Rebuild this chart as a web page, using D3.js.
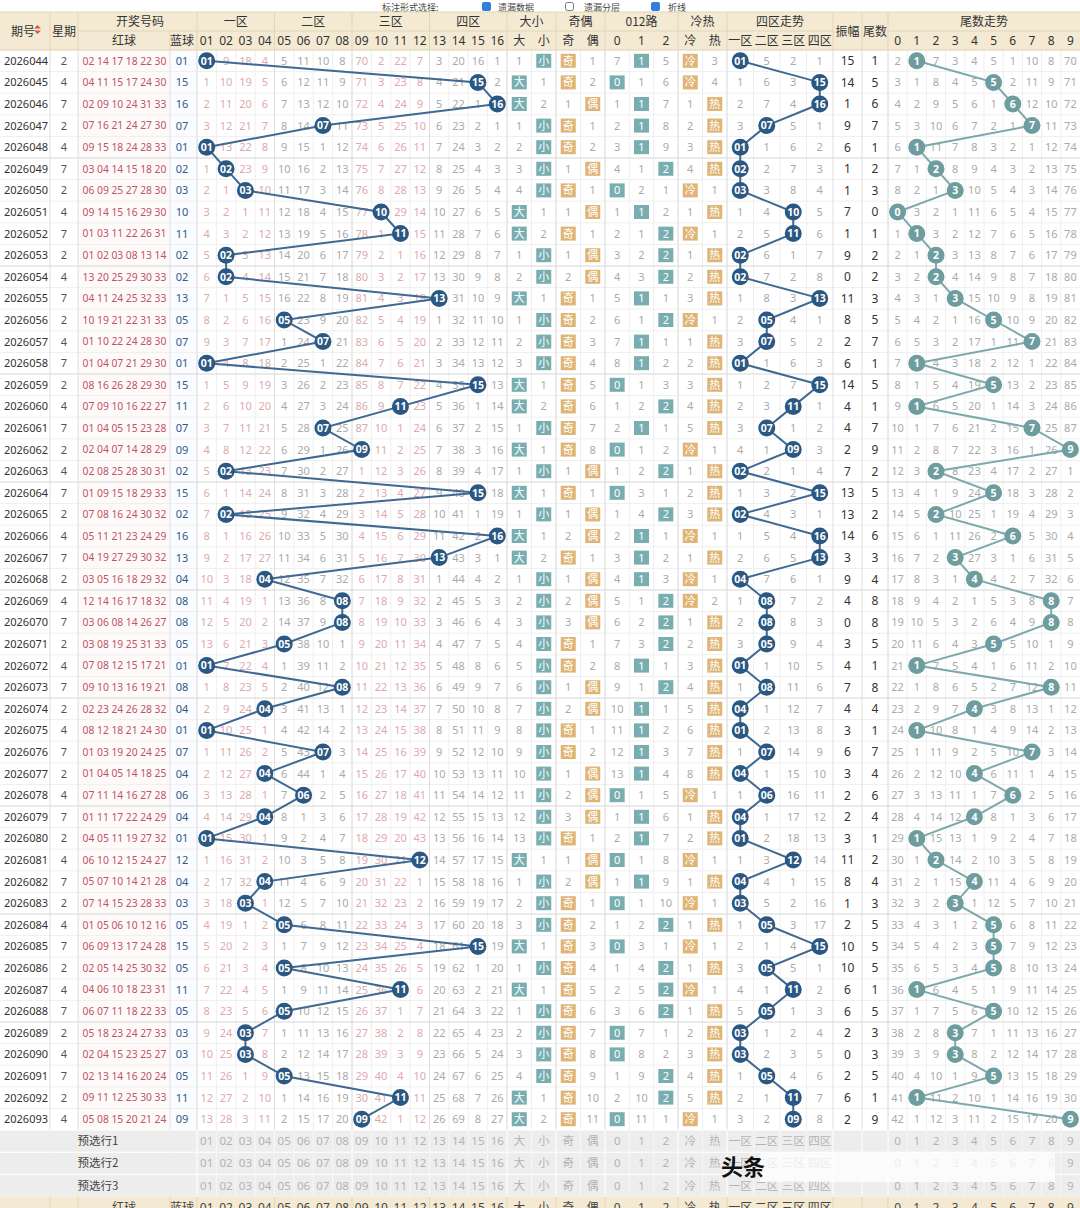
<!DOCTYPE html>
<html><head><meta charset="utf-8">
<script src="https://cdn.jsdelivr.net/npm/d3@7"></script>
<style>
body{margin:0;background:#fff;}
svg{display:block;font-family:"Noto Sans","Noto Sans CJK SC",sans-serif;}
</style>
</head><body>
<svg id="c" width="1080" height="1208"></svg>
<script>
// ---------------- DATA ----------------
const periods = ["2026044","2026045","2026046","2026047","2026048","2026049","2026050","2026051","2026052","2026053",
"2026054","2026055","2026056","2026057","2026058","2026059","2026060","2026061","2026062","2026063",
"2026064","2026065","2026066","2026067","2026068","2026069","2026070","2026071","2026072","2026073",
"2026074","2026075","2026076","2026077","2026078","2026079","2026080","2026081","2026082","2026083",
"2026084","2026085","2026086","2026087","2026088","2026089","2026090","2026091","2026092","2026093"];
const weekdays = [2,4,7,2,4,7,2,4,7,2, 4,7,2,4,7,2,4,7,2,4, 7,2,4,7,2,4,7,2,4,7, 2,4,7,2,4,7,2,4,7,2, 4,7,2,4,7,2,4,7,2,4];
const redBalls = [
"02 14 17 18 22 30","04 11 15 17 24 30","02 09 10 24 31 33","07 16 21 24 27 30","09 15 18 24 28 33",
"03 04 14 15 18 20","06 09 25 27 28 30","09 14 15 16 29 30","01 03 11 22 26 31","01 02 03 08 13 14",
"13 20 25 29 30 33","04 11 24 25 32 33","10 19 21 22 31 33","01 10 22 24 28 30","01 04 07 21 29 30",
"08 16 26 28 29 30","07 09 10 16 22 27","01 04 05 15 23 28","02 04 07 14 28 29","02 08 25 28 30 31",
"01 09 15 18 29 33","07 08 16 24 30 32","05 11 21 23 24 29","04 19 27 29 30 32","03 05 16 18 29 32",
"12 14 16 17 18 32","03 06 08 14 26 27","03 08 19 25 31 33","07 08 12 15 17 21","09 10 13 16 19 21",
"02 23 24 26 28 32","08 12 18 21 24 30","01 03 19 20 24 25","01 04 05 14 18 25","07 11 14 16 27 28",
"01 11 17 22 24 29","04 05 11 19 27 32","06 10 12 15 24 27","05 07 10 14 21 28","07 14 15 23 28 33",
"01 05 06 10 12 16","06 09 13 17 24 28","02 05 14 25 30 32","04 06 10 18 23 31","06 07 11 18 22 33",
"05 18 23 24 27 33","02 04 15 23 25 27","02 13 14 16 20 24","09 11 12 25 30 33","05 08 15 20 21 24"];
const blueBalls = [1,15,16,7,1,2,3,10,11,2, 2,13,5,7,1,15,11,7,9,2, 15,2,16,13,4,8,8,5,1,8,
 4,1,7,4,6,4,1,12,4,3, 5,15,5,11,5,3,3,5,11,9];
const hotCold = ["冷","冷","热","热","热","热","冷","热","冷","热",
 "热","热","冷","热","热","热","热","热","冷","热",
 "热","热","冷","热","冷","冷","热","热","热","热",
 "热","热","热","热","冷","热","热","冷","热","冷",
 "热","冷","热","冷","热","热","热","热","热","冷"];
const prevBlue = 16; // blue before the first row (gives first amplitude 15)
// omission values shown in the first row (0 = hit)
const blueOmitFirst = [0,9,18,4,5,11,10,8,70,2,22,7,3,20,16,1];
const bigSmallOmitFirst = [1,0];
const oddEvenOmitFirst = [0,1];
const mod3OmitFirst = [7,0,5];
const hotColdOmitFirst = [0,3];
const zoneOmitFirst = [0,5,2,1];
const tailOmitFirst = [2,0,7,3,4,5,1,10,8,70];
// tick / header labels
const blueLabels = ["01","02","03","04","05","06","07","08","09","10","11","12","13","14","15","16"];
const zoneNames = ["一区","二区","三区","四区"];
const bsLabels = ["大","小"], oeLabels = ["奇","偶"], m3Labels = ["0","1","2"], hcLabels = ["冷","热"];
const tailLabels = ["0","1","2","3","4","5","6","7","8","9"];
const preRows = ["预选行1","预选行2","预选行3"];

// -------------- derived (omission) --------------
function omissions(first, hitIndex){
  const out=[first.slice()];
  for(let i=1;i<periods.length;i++){
    const h=hitIndex(i);
    out.push(out[i-1].map((v,k)=> k===h?0:v+1));
  }
  return out;
}
const blueOm = omissions(blueOmitFirst, i=>blueBalls[i]-1);
const bsOm = omissions(bigSmallOmitFirst, i=>blueBalls[i]>=9?0:1);
const oeOm = omissions(oddEvenOmitFirst, i=>blueBalls[i]%2?0:1);
const m3Om = omissions(mod3OmitFirst, i=>blueBalls[i]%3);
const hcOm = omissions(hotColdOmitFirst, i=>hotCold[i]==="冷"?0:1);
const zoneOm = omissions(zoneOmitFirst, i=>Math.ceil(blueBalls[i]/4)-1);
const tailOm = omissions(tailOmitFirst, i=>blueBalls[i]%10);

// -------------- SCALES --------------
const svg = d3.select("#c");
const y = d3.scaleBand().domain(periods).range([50,1130]);
const rh = y.bandwidth();
const cy = p => y(p)+rh/2;
const colBlue = d3.scaleBand().domain(d3.range(16)).range([197,507]);
const colBS = d3.scaleBand().domain([0,1]).range([507,556]);
const colOE = d3.scaleBand().domain([0,1]).range([556,605]);
const colM3 = d3.scaleBand().domain([0,1,2]).range([605,678]);
const colHC = d3.scaleBand().domain([0,1]).range([678,727]);
const colZone = d3.scaleBand().domain([0,1,2,3]).range([727,833]);
const colTail = d3.scaleBand().domain(d3.range(10)).range([888,1080]);
const redX = d3.scalePoint().domain(d3.range(6)).range([88.5,160.5]);
const cx = (s,k)=>s(k)+s.bandwidth()/2;

const BALL="#2b5882", LINE="#3f6892", TAILB="#6d9d9f", TAILL="#7ea9ab";
const TEAL="#79aeb1", ORANGE="#dfb575";
const GREY="#aaaaaa", PINK="#dcaaad";

// -------------- BACKGROUND & GRID --------------
const g = svg.append("g");
g.append("rect").attr("x",0).attr("y",0).attr("width",1080).attr("height",1208).attr("fill","#ffffff");
g.append("rect").attr("x",78).attr("y",50).attr("width",92).attr("height",1080).attr("fill","#fffafa");
g.append("rect").attr("x",170).attr("y",50).attr("width",27).attr("height",1080).attr("fill","#fafcff");

const allCols = [];
[colBlue,colBS,colOE,colM3,colHC,colZone,colTail].forEach(s=>s.domain().forEach(k=>allCols.push(s(k))));
allCols.forEach(x=>g.append("line").attr("x1",x).attr("x2",x).attr("y1",50).attr("y2",1130).attr("stroke","#f0eeee"));
periods.forEach((p,i)=>{
  g.append("line").attr("x1",0).attr("x2",1080).attr("y1",y(p)).attr("y2",y(p))
   .attr("stroke", i%5===0 && i>0 ? "#d6d6d6" : "#efefef");
});
[50,78,170,197,colBlue(4),colBlue(8),colBlue(12),507,556,605,678,727,833,862,888].forEach(x=>{
  g.append("line").attr("x1",x).attr("x2",x).attr("y1",12).attr("y2",1196).attr("stroke","#dedede");
});

// -------------- TOP CONTROL STRIP --------------
const topG = svg.append("g").attr("font-family","Noto Sans CJK SC").attr("font-size",9).attr("fill","#444");
topG.append("text").attr("x",382).attr("y",11).text("标注形式选择:");
topG.append("rect").attr("x",482).attr("y",2).attr("width",9).attr("height",9).attr("rx",2).attr("fill","#2f7fe0");
topG.append("text").attr("x",498).attr("y",11).text("遗漏数据");
topG.append("rect").attr("x",565.5).attr("y",2.5).attr("width",8).attr("height",8).attr("rx",2).attr("fill","#fff").attr("stroke","#777");
topG.append("text").attr("x",584).attr("y",11).text("遗漏分层");
topG.append("rect").attr("x",651).attr("y",2).attr("width",9).attr("height",9).attr("rx",2).attr("fill","#2f7fe0");
topG.append("text").attr("x",668).attr("y",11).text("折线");

// -------------- HEADER --------------
const H = svg.append("g");
H.append("rect").attr("x",0).attr("y",12).attr("width",1080).attr("height",38).attr("fill","#f4ead3");
const hl = (x1,y1,x2,y2)=>H.append("line").attr("x1",x1).attr("y1",y1).attr("x2",x2).attr("y2",y2).attr("stroke","#e4d6b5");
hl(78,31,507,31); hl(507,31,833,31); hl(888,31,1080,31);
hl(0,12,1080,12); hl(0,50,1080,50);
[50,78,197,colBlue(4),colBlue(8),colBlue(12),507,556,605,678,727,833,862,888].forEach(x=>hl(x,12,x,50));
hl(170,31,170,50);
const ht = (x,yv,t,opt={})=>H.append("text").attr("x",x).attr("y",yv).attr("text-anchor","middle")
  .attr("font-family",opt.cjk?"Noto Sans CJK SC":"Noto Sans").attr("font-size",opt.fs||12).attr("fill","#333").text(t);
ht(23,35.5,"期号",{cjk:1});
H.append("path").attr("d","M34,28.5 L41,28.5 L37.5,25 Z").attr("fill","#d9534f");
H.append("path").attr("d","M34,30.5 L41,30.5 L37.5,34 Z").attr("fill","#d9534f");
ht(64,35.5,"星期",{cjk:1});
ht(140,26,"开奖号码",{cjk:1});
ht(124,45,"红球",{cjk:1});
ht(182,45,"蓝球",{cjk:1});
zoneNames.forEach((z,k)=>ht((colBlue(k*4)+colBlue(k*4+3)+colBlue.bandwidth())/2,26,z,{cjk:1}));
blueLabels.forEach((l,k)=>ht(cx(colBlue,k),45,l));
ht(531.5,26,"大小",{cjk:1}); bsLabels.forEach((l,k)=>ht(cx(colBS,k),45,l,{cjk:1}));
ht(580.5,26,"奇偶",{cjk:1}); oeLabels.forEach((l,k)=>ht(cx(colOE,k),45,l,{cjk:1}));
ht(641.5,26,"012路",{cjk:1}); m3Labels.forEach((l,k)=>ht(cx(colM3,k),45,l));
ht(702.5,26,"冷热",{cjk:1}); hcLabels.forEach((l,k)=>ht(cx(colHC,k),45,l,{cjk:1}));
ht(780,26,"四区走势",{cjk:1}); zoneNames.forEach((l,k)=>ht(cx(colZone,k),45,l,{cjk:1}));
ht(847.5,35.5,"振幅",{cjk:1});
ht(875,35.5,"尾数",{cjk:1});
ht(984,26,"尾数走势",{cjk:1}); tailLabels.forEach((l,k)=>ht(cx(colTail,k),45,l));

// -------------- BODY TEXT --------------
const B = svg.append("g").attr("font-family","Noto Sans").attr("font-size",11);
const bt = (x,yv,t,fill,opt={})=>B.append("text").attr("x",x).attr("y",yv).attr("text-anchor","middle")
  .attr("dy","0.36em").attr("fill",fill).attr("font-size",opt.fs||11)
  .attr("font-family",opt.cjk?"Noto Sans CJK SC":"Noto Sans").attr("font-weight",opt.bold?"bold":null).text(t);

periods.forEach((p,i)=>{
  const yy = cy(p);
  bt(26,yy,p,"#333");
  bt(64,yy,weekdays[i],"#555");
  redBalls[i].split(" ").forEach((n,k)=>bt(redX(k),yy,n,"#bd5365",{fs:10.3}));
  bt(182,yy,String(blueBalls[i]).padStart(2,"0"),"#2f5b86");
  blueOm[i].forEach((v,k)=>{ if(v>0) bt(cx(colBlue,k),yy,v, (Math.floor(k/4)%2===0)?PINK:GREY); });
  const box=(s,k,label,color,cjk)=>{
    const x=cx(s,k);
    B.append("rect").attr("x",x-7.5).attr("y",yy-7).attr("width",15).attr("height",14).attr("fill",color);
    bt(x,yy,label,"#fff",{cjk:cjk,fs:11});
  };
  bsOm[i].forEach((v,k)=> v===0 ? box(colBS,k,bsLabels[k],TEAL,1) : bt(cx(colBS,k),yy,v,GREY));
  oeOm[i].forEach((v,k)=> v===0 ? box(colOE,k,oeLabels[k],ORANGE,1) : bt(cx(colOE,k),yy,v,GREY));
  m3Om[i].forEach((v,k)=> v===0 ? box(colM3,k,m3Labels[k],TEAL,0) : bt(cx(colM3,k),yy,v,GREY));
  hcOm[i].forEach((v,k)=> v===0 ? box(colHC,k,hcLabels[k],ORANGE,1) : bt(cx(colHC,k),yy,v,GREY));
  zoneOm[i].forEach((v,k)=>{ if(v>0) bt(cx(colZone,k),yy,v,GREY); });
  const amp = Math.abs(blueBalls[i]-(i===0?prevBlue:blueBalls[i-1]));
  bt(847.5,yy,amp,"#333",{fs:12});
  bt(875,yy,blueBalls[i]%10,"#333",{fs:12});
  tailOm[i].forEach((v,k)=>{ if(v>0) bt(cx(colTail,k),yy,v,GREY); });
});

// -------------- LINES & BALLS --------------
const L = svg.append("g");
const line = d3.line();
const bluePts = periods.map((p,i)=>[cx(colBlue,blueBalls[i]-1),cy(p)]);
const zonePts = periods.map((p,i)=>[cx(colZone,Math.ceil(blueBalls[i]/4)-1),cy(p)]);
const tailPts = periods.map((p,i)=>[cx(colTail,blueBalls[i]%10),cy(p)]);
L.append("path").attr("d",line(bluePts)).attr("fill","none").attr("stroke",LINE).attr("stroke-width",2);
L.append("path").attr("d",line(zonePts)).attr("fill","none").attr("stroke",LINE).attr("stroke-width",2);
L.append("path").attr("d",line(tailPts)).attr("fill","none").attr("stroke",TAILL).attr("stroke-width",2);
const ball=(pt,label,color)=>{
  L.append("circle").attr("cx",pt[0]).attr("cy",pt[1]).attr("r",8.5).attr("fill",color);
  L.append("text").attr("x",pt[0]).attr("y",pt[1]).attr("dy","0.36em").attr("text-anchor","middle")
   .attr("font-family","Noto Sans").attr("font-weight","bold").attr("font-size",10.5).attr("fill","#fff").text(label);
};
periods.forEach((p,i)=>{
  const lab=String(blueBalls[i]).padStart(2,"0");
  ball(bluePts[i],lab,BALL);
  ball(zonePts[i],lab,BALL);
  ball(tailPts[i],blueBalls[i]%10,TAILB);
});

// -------------- FOOTER --------------
const F = svg.append("g");
const fh = 22.2;
preRows.forEach((name,r)=>{
  const y0 = 1130 + r*fh, yc = y0+fh/2;
  F.append("rect").attr("x",0).attr("y",y0).attr("width",1080).attr("height",fh).attr("fill","#ededed");
  F.append("line").attr("x1",0).attr("x2",1080).attr("y1",y0).attr("y2",y0).attr("stroke","#ffffff");
  const ft=(x,t,cjk,fill)=>F.append("text").attr("x",x).attr("y",yc).attr("dy","0.36em").attr("text-anchor","middle")
    .attr("font-family",cjk?"Noto Sans CJK SC":"Noto Sans").attr("font-size",11.5).attr("fill",fill||"#b3b3b3").text(t);
  ft(98,name,1,"#444");
  blueLabels.forEach((l,k)=>ft(cx(colBlue,k),l));
  bsLabels.forEach((l,k)=>ft(cx(colBS,k),l,1));
  oeLabels.forEach((l,k)=>ft(cx(colOE,k),l,1));
  m3Labels.forEach((l,k)=>ft(cx(colM3,k),l));
  hcLabels.forEach((l,k)=>ft(cx(colHC,k),l,1));
  zoneNames.forEach((l,k)=>ft(cx(colZone,k),l,1));
  tailLabels.forEach((l,k)=>ft(cx(colTail,k),l));
});
[197,colBlue(4),colBlue(8),colBlue(12),507,556,605,678,727,833,862,888].forEach(x=>
  F.append("line").attr("x1",x).attr("x2",x).attr("y1",1130).attr("y2",1208).attr("stroke","#ffffff"));
allCols.forEach(x=>F.append("line").attr("x1",x).attr("x2",x).attr("y1",1130).attr("y2",1196).attr("stroke","#f7f7f7"));
const yl = 1130+3*fh;
F.append("rect").attr("x",0).attr("y",yl).attr("width",1080).attr("height",30).attr("fill","#f4ead3");
[50,78,170,197,colBlue(4),colBlue(8),colBlue(12),507,556,605,678,727,833,862,888].forEach(x=>
  F.append("line").attr("x1",x).attr("x2",x).attr("y1",yl).attr("y2",1208).attr("stroke","#e4d6b5"));
const lt=(x,t,cjk)=>F.append("text").attr("x",x).attr("y",yl+11).attr("dy","0.36em").attr("text-anchor","middle")
  .attr("font-family",cjk?"Noto Sans CJK SC":"Noto Sans").attr("font-size",12).attr("fill","#444").text(t);
lt(124,"红球",1); lt(182,"蓝球",1);
blueLabels.forEach((l,k)=>lt(cx(colBlue,k),l));
bsLabels.forEach((l,k)=>lt(cx(colBS,k),l,1));
oeLabels.forEach((l,k)=>lt(cx(colOE,k),l,1));
m3Labels.forEach((l,k)=>lt(cx(colM3,k),l));
hcLabels.forEach((l,k)=>lt(cx(colHC,k),l,1));
zoneNames.forEach((l,k)=>lt(cx(colZone,k),l,1));
tailLabels.forEach((l,k)=>lt(cx(colTail,k),l));

F.append("rect").attr("x",760).attr("y",1152).attr("width",295).attr("height",30).attr("fill","#ffffff").attr("opacity",0.75);
F.append("text").attr("x",721).attr("y",1175).attr("font-family","Noto Sans CJK SC").attr("font-weight","bold")
  .attr("font-size",22).attr("fill","#111").text("头条");
</script>
</body></html>
